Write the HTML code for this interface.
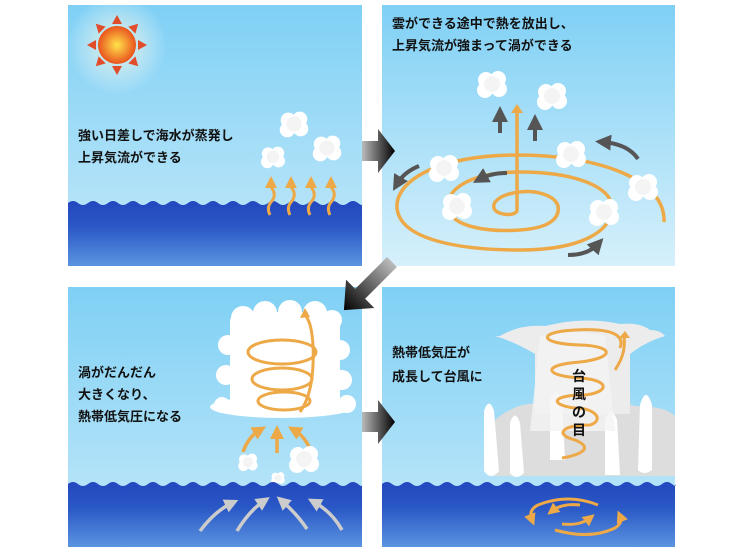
<!DOCTYPE html>
<html><head><meta charset="utf-8"><style>
body{margin:0;background:#fff;width:739px;height:554px;overflow:hidden}
text{font-family:"Liberation Sans","Noto Sans CJK JP",sans-serif;font-size:13px;font-weight:bold;fill:#111}
</style></head><body>
<svg width="739" height="554" viewBox="0 0 739 554" xmlns="http://www.w3.org/2000/svg">
<defs>
<linearGradient id="sky" x1="0" y1="0" x2="0" y2="1"><stop offset="0" stop-color="#7fd0f5"/><stop offset="1" stop-color="#c4e9f9"/></linearGradient>
<linearGradient id="sky2" x1="0" y1="0" x2="0" y2="1"><stop offset="0" stop-color="#7fd0f5"/><stop offset="1" stop-color="#d6f0fb"/></linearGradient>
<linearGradient id="sea" x1="0" y1="0" x2="0" y2="1"><stop offset="0" stop-color="#2347bf"/><stop offset="0.4" stop-color="#2a58c6"/><stop offset="1" stop-color="#5b94e0"/></linearGradient>
<radialGradient id="sun" cx="0.5" cy="0.5" r="0.5"><stop offset="0" stop-color="#ffe44a"/><stop offset="1" stop-color="#e9531e"/></radialGradient>
<radialGradient id="glow" cx="0.5" cy="0.5" r="0.5"><stop offset="0" stop-color="#fff8d0" stop-opacity="0.8"/><stop offset="1" stop-color="#fff" stop-opacity="0"/></radialGradient>
<linearGradient id="arr" x1="0" y1="0" x2="1" y2="0"><stop offset="0" stop-color="#bbb"/><stop offset="1" stop-color="#000"/></linearGradient>
<g id="cl"><circle cx="-6" cy="-4" r="8" fill="#fff"/><circle cx="6" cy="-5" r="8" fill="#fff"/><circle cx="-7" cy="6" r="8" fill="#fff"/><circle cx="7" cy="5" r="8" fill="#fff"/><circle cx="0" cy="0" r="8" fill="#f4f4f4"/></g>
<marker id="oh" markerWidth="4" markerHeight="4" refX="2" refY="2" orient="auto" markerUnits="strokeWidth"><path d="M0,0 L4,2 L0,4 Z" fill="#eda947"/></marker>
<marker id="gh" markerWidth="4" markerHeight="4" refX="2" refY="2" orient="auto" markerUnits="strokeWidth"><path d="M0,0 L4,2 L0,4 Z" fill="#555"/></marker>
<marker id="wh" markerWidth="4" markerHeight="4" refX="2" refY="2" orient="auto" markerUnits="strokeWidth"><path d="M0,0 L4,2 L0,4 Z" fill="#ccc"/></marker>
</defs>

<!-- Panel TL -->
<rect x="68" y="5" width="294" height="261" fill="url(#sky)"/>
<circle cx="117" cy="45" r="50" fill="url(#glow)"/>
<g transform="translate(117,45)" fill="#e14d2a">
<path d="M0,-30 L5,-21 L-5,-21Z"/><path d="M0,30 L5,21 L-5,21Z"/><path d="M-30,0 L-21,5 L-21,-5Z"/><path d="M30,0 L21,5 L21,-5Z"/>
<g transform="rotate(45)"><path d="M0,-30 L5,-21 L-5,-21Z"/><path d="M0,30 L5,21 L-5,21Z"/><path d="M-30,0 L-21,5 L-21,-5Z"/><path d="M30,0 L21,5 L21,-5Z"/></g>
<circle r="19" fill="url(#sun)"/></g>
<text x="78" y="140">強い日差しで海水が蒸発し</text>
<text x="78" y="162">上昇気流ができる</text>
<g transform="translate(294,124) scale(0.95)"><use href="#cl"/></g>
<g transform="translate(327,148) scale(0.95)"><use href="#cl"/></g>
<g transform="translate(273,157) scale(0.8)"><use href="#cl"/></g>
<path d="M68,203 q5,-4 10,0 t10,0 t10,0 t10,0 t10,0 t10,0 t10,0 t10,0 t10,0 t10,0 t10,0 t10,0 t10,0 t10,0 t10,0 t10,0 t10,0 t10,0 t10,0 t10,0 t10,0 t10,0 t10,0 t10,0 t10,0 t10,0 t10,0 t10,0 t10,0 t4,0 V266 H68Z" fill="url(#sea)"/>
<g stroke="#eda947" stroke-width="3" fill="none" marker-end="url(#oh)">
<path d="M270,215 q-4,-8 2,-14 q5,-7 -1,-14 l0,-5"/><path d="M290,215 q-4,-8 2,-14 q5,-7 -1,-14 l0,-5"/><path d="M310,215 q-4,-8 2,-14 q5,-7 -1,-14 l0,-5"/><path d="M330,215 q-4,-8 2,-14 q5,-7 -1,-14 l0,-5"/></g>

<!-- Panel TR -->
<rect x="382" y="5" width="293" height="261" fill="url(#sky2)"/>
<text x="392" y="28">雲ができる途中で熱を放出し、</text>
<text x="392" y="50">上昇気流が強まって渦ができる</text>
<g stroke="#eda947" stroke-width="3.5" fill="none">
<path d="M664,222 C666,180 600,155 517,155 C440,155 395,180 397,208 C400,240 460,250 520,250 C580,250 610,232 612,210 C614,185 570,172 520,172 C470,172 445,190 448,208 C452,228 490,232 520,230 C550,228 560,218 558,206 C555,195 535,190 520,192 C500,194 490,203 495,210 C500,216 517,216 517,210 L517,108"/>
<path d="M517,104 l-6,9 h12z" fill="#eda947" stroke="none"/>
</g>
<g stroke="#555" stroke-width="4" fill="none" marker-end="url(#gh)">
<path d="M500,133 V114"/><path d="M535,141 V122"/>
<path d="M507,173 q-16,0 -27,6"/><path d="M419,166 q-15,6 -22,18"/><path d="M638,159 q-10,-15 -35,-17"/><path d="M568,255 q20,0 30,-11"/>
</g>
<use href="#cl" x="492" y="84"/><use href="#cl" x="552" y="96"/><use href="#cl" x="571" y="154"/><use href="#cl" x="444" y="168"/><use href="#cl" x="457" y="206"/><use href="#cl" x="643" y="187"/><use href="#cl" x="604" y="212"/>

<!-- Panel BL -->
<rect x="68" y="287" width="294" height="260" fill="url(#sky)"/>
<g fill="#fff">
<circle cx="243" cy="318" r="12"/><circle cx="265" cy="313" r="12"/><circle cx="290" cy="312" r="12"/><circle cx="315" cy="313" r="12"/><circle cx="332" cy="320" r="10"/>
<rect x="230" y="312" width="110" height="100" rx="10"/>
<circle cx="228" cy="345" r="10"/><circle cx="226" cy="375" r="10"/><circle cx="340" cy="350" r="10"/><circle cx="342" cy="380" r="10"/>
<ellipse cx="282" cy="407" rx="72" ry="11"/><circle cx="222" cy="405" r="8"/><circle cx="347" cy="404" r="9"/>
</g>
<g stroke="#eda947" stroke-width="3" fill="none">
<ellipse cx="282" cy="352" rx="34" ry="12"/>
<ellipse cx="282" cy="379" rx="30" ry="11"/>
<ellipse cx="284" cy="401" rx="26" ry="9"/>
<path d="M300,412 C312,395 314,370 313,345 C312,330 310,322 306,316"/>
<path d="M305,308 l-5,10 l10,-1z" fill="#eda947" stroke="none"/>
</g>
<g stroke="#eda947" stroke-width="3.5" fill="none" marker-end="url(#oh)"><path d="M243,452 q5,-15 17,-22"/><path d="M277,453 V432"/><path d="M311,452 q-5,-15 -17,-22"/></g>
<g transform="translate(248,462) scale(0.65)"><use href="#cl"/></g>
<use href="#cl" x="304" y="459"/>
<g transform="translate(278,478) scale(0.45)"><use href="#cl"/></g>
<path d="M68,484 q5,-4 10,0 t10,0 t10,0 t10,0 t10,0 t10,0 t10,0 t10,0 t10,0 t10,0 t10,0 t10,0 t10,0 t10,0 t10,0 t10,0 t10,0 t10,0 t10,0 t10,0 t10,0 t10,0 t10,0 t10,0 t10,0 t10,0 t10,0 t10,0 t10,0 t4,0 V547 H68Z" fill="url(#sea)"/>
<g stroke="#ccc" stroke-width="3.5" fill="none" marker-end="url(#wh)"><path d="M200,531 q15,-20 32,-28"/><path d="M237,531 q12,-20 27,-30"/><path d="M307,529 q-10,-15 -25,-28"/><path d="M342,530 q-10,-18 -28,-28"/></g>
<text x="78" y="377">渦がだんだん</text>
<text x="78" y="399">大きくなり、</text>
<text x="78" y="421">熱帯低気圧になる</text>

<!-- Panel BR -->
<rect x="382" y="287" width="293" height="260" fill="url(#sky)"/>
<g fill="#ddd"><path d="M495,420 q30,-25 60,-12 q40,-18 80,-2 q30,0 40,10 v60 h-185z"/></g>
<path d="M500,336 q20,-12 45,-10 q40,-10 75,-2 q20,-2 30,6 q10,0 15,6 q-20,6 -35,18 v60 h-95 v-60 q-20,-12 -40,-18z" fill="#ececec"/>
<g fill="#fff">
<path d="M484,411 q5,-15 10,0 l5,60 q-8,10 -15,0z"/><path d="M510,423 q5,-15 10,0 l4,50 q-8,8 -14,0z"/><path d="M550,400 q6,-16 12,0 l3,60 h-15z"/><path d="M605,420 q6,-16 12,0 l3,55 h-15z"/><path d="M640,405 q6,-20 12,0 l0,65 q-8,6 -14,0z"/>
<path d="M540,336 q30,-8 65,0 l10,95 h-85z" fill="#f4f4f4" opacity="0.8"/>
</g>
<g stroke="#eda947" stroke-width="3" fill="none">
<path d="M562,458 C580,455 595,448 575,440 C555,435 560,425 590,425 C605,420 595,408 575,408 C550,405 550,395 585,395 C610,392 610,380 580,378 C545,376 540,365 580,362 C615,358 615,346 580,345 C540,344 535,332 575,330 C612,328 625,335 620,348 M615,370 C625,355 625,345 624,335"/>
<path d="M625,331 l-6,7 h11z" fill="#eda947" stroke="none"/>
</g>
<text x="572" y="381" style="font-size:14px">台</text>
<text x="572" y="399" style="font-size:14px">風</text>
<text x="572" y="417" style="font-size:14px">の</text>
<text x="572" y="435" style="font-size:14px">目</text>
<text x="392" y="357">熱帯低気圧が</text>
<text x="392" y="381">成長して台風に</text>
<path d="M382,484 q5,-4 10,0 t10,0 t10,0 t10,0 t10,0 t10,0 t10,0 t10,0 t10,0 t10,0 t10,0 t10,0 t10,0 t10,0 t10,0 t10,0 t10,0 t10,0 t10,0 t10,0 t10,0 t10,0 t10,0 t10,0 t10,0 t10,0 t10,0 t10,0 t10,0 t3,0 V547 H382Z" fill="url(#sea)"/>
<g stroke="#eda947" stroke-width="3" fill="none" marker-end="url(#oh)">
<path d="M598,505 q-30,-12 -60,0 q-10,5 -6,15"/><path d="M555,530 q35,10 60,-2 q8,-5 5,-12"/><path d="M580,505 q-18,-2 -28,6"/><path d="M562,524 q18,2 28,-6"/></g>

<!-- Arrows -->
<path d="M362,141 H378 V129 L395,151 L378,173 V161 H362Z" fill="url(#arr)"/>
<path d="M362,412 H378 V400 L395,422 L378,444 V432 H362Z" fill="url(#arr)"/>
<g transform="translate(392,262) rotate(135)"><path d="M0,-7 H45 V-20 L68,0 L45,20 V7 H0Z" fill="url(#arr)"/></g>
</svg>
</body></html>
